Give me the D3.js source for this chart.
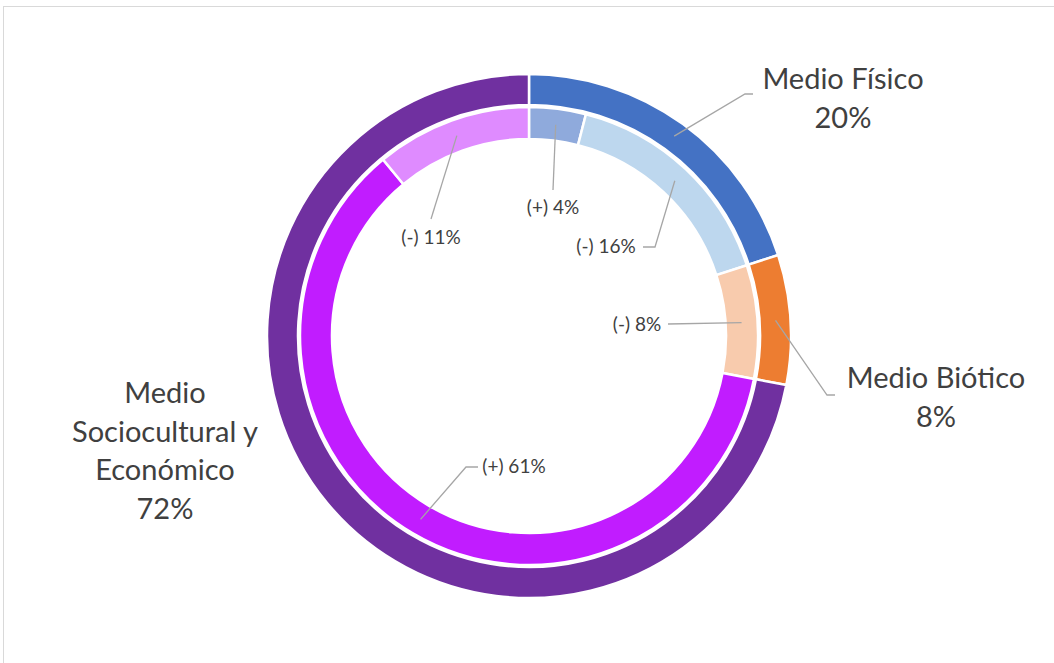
<!DOCTYPE html>
<html>
<head>
<meta charset="utf-8">
<script src="https://cdn.jsdelivr.net/npm/d3@7"></script>
<style>
  body { margin: 0; background: #fff; }
  text { font-family: Lato, "Open Sans", sans-serif; fill: #404040; }
</style>
</head>
<body>
<div class="container"></div>
<script>
// outer ring
var outerNames = ["Medio Físico", "Medio Biótico", "Medio Sociocultural y Económico"];
var outerValues = [20, 8, 72];
var outerColors = ["#4472C4", "#ED7D31", "#7030A0"];

// inner ring
var innerNames = ["(+) 4%", "(-) 16%", "(-) 8%", "(+) 61%", "(-) 11%"];
var innerValues = [4, 16, 8, 61, 11];
var innerColors = ["#8FAADC", "#BDD7EE", "#F8CBAD", "#C11CFF", "#DF8BFF"];

const WIDTH = 1054;
const HEIGHT = 663;
const CX = 529, CY = 336;

// label layout: text lines, anchor, leader path after the slice point
var outerLayout = [
  {lines: ["Medio Físico", "20%"], x: 843, y: 89, leader: [[745, 94], [753, 94]]},
  {lines: ["Medio Biótico", "8%"], x: 936, y: 388, leader: [[827, 395], [835, 395]]},
  {lines: ["Medio", "Sociocultural y", "Económico", "72%"], x: 165, y: 403, leader: null}
];
var innerLayout = [
  {x: 553, y: 214, leader: [[553, 190]]},
  {x: 606, y: 253, leader: [[655, 247], [643, 247]]},
  {x: 637, y: 331, leader: [[668, 324]]},
  {x: 514, y: 473, leader: [[466, 467], [478, 467]]},
  {x: 431, y: 244, leader: [[431, 219]]}
];

var svg = d3.select(".container").append("svg")
  .attr("width", WIDTH)
  .attr("height", HEIGHT);

// chart frame
svg.append("rect")
  .attr("x", 3.5).attr("y", 6.5)
  .attr("width", WIDTH + 10).attr("height", HEIGHT + 10)
  .attr("fill", "none")
  .attr("stroke", "#d9d9d9");

var g = svg.append("g").attr("transform", "translate(" + CX + "," + CY + ")");

var pie = d3.pie().sort(null).value(function(d) { return d; });

var outerArc = d3.arc().innerRadius(231).outerRadius(262);
var innerArc = d3.arc().innerRadius(197).outerRadius(229);

var outerData = pie(outerValues);
var innerData = pie(innerValues);

g.selectAll("path.outer")
  .data(outerData)
  .enter().append("path")
  .attr("class", "outer")
  .attr("d", outerArc)
  .attr("fill", function(d, i) { return outerColors[i]; })
  .attr("stroke", "#fff")
  .attr("stroke-width", 2.5);

g.selectAll("path.inner")
  .data(innerData)
  .enter().append("path")
  .attr("class", "inner")
  .attr("d", innerArc)
  .attr("fill", function(d, i) { return innerColors[i]; })
  .attr("stroke", "#fff")
  .attr("stroke-width", 2.5);

var line = d3.line();

function sliceAnchor(d, r) {
  var a = (d.startAngle + d.endAngle) / 2;
  return [CX + r * Math.sin(a), CY - r * Math.cos(a)];
}

// leaders
outerData.forEach(function(d, i) {
  var lay = outerLayout[i];
  if (!lay.leader) return;
  svg.append("path")
    .attr("d", line([sliceAnchor(d, 247)].concat(lay.leader)))
    .attr("fill", "none")
    .attr("stroke", "#a6a6a6")
    .attr("stroke-width", 1.3);
});
innerData.forEach(function(d, i) {
  var lay = innerLayout[i];
  svg.append("path")
    .attr("d", line([sliceAnchor(d, 213)].concat(lay.leader)))
    .attr("fill", "none")
    .attr("stroke", "#a6a6a6")
    .attr("stroke-width", 1.3);
});

// outer labels
outerLayout.forEach(function(lay, i) {
  var t = svg.append("text")
    .attr("x", lay.x).attr("y", lay.y)
    .attr("text-anchor", "middle")
    .style("font-size", "29px");
  lay.lines.forEach(function(s, k) {
    t.append("tspan").attr("x", lay.x).attr("dy", k === 0 ? 0 : 38.5).text(s);
  });
});

// inner labels
innerLayout.forEach(function(lay, i) {
  svg.append("text")
    .attr("x", lay.x).attr("y", lay.y)
    .attr("text-anchor", "middle")
    .style("font-size", "19px")
    .text(innerNames[i]);
});
</script>
</body>
</html>
